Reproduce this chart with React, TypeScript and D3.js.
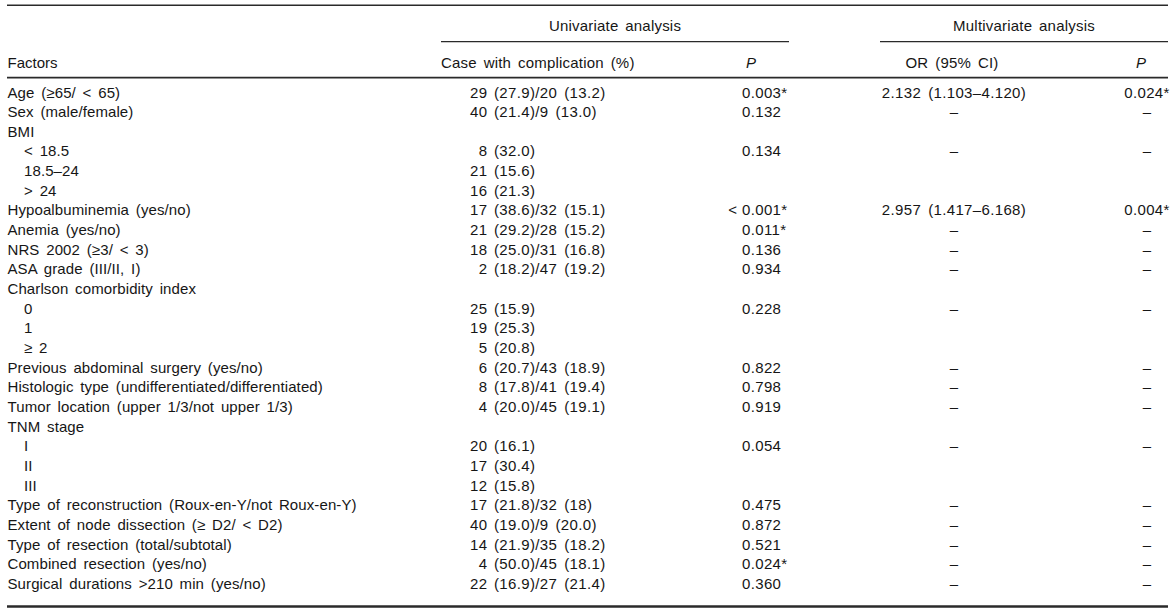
import React from "react";
import * as d3 from "d3";

const factors: string[] = [
  "Age (≥65/ < 65)",
  "Sex (male/female)",
  "BMI",
  "< 18.5",
  "18.5–24",
  "> 24",
  "Hypoalbuminemia (yes/no)",
  "Anemia (yes/no)",
  "NRS 2002 (≥3/ < 3)",
  "ASA grade (III/II, I)",
  "Charlson comorbidity index",
  "0",
  "1",
  "≥ 2",
  "Previous abdominal surgery (yes/no)",
  "Histologic type (undifferentiated/differentiated)",
  "Tumor location (upper 1/3/not upper 1/3)",
  "TNM stage",
  "I",
  "II",
  "III",
  "Type of reconstruction (Roux-en-Y/not Roux-en-Y)",
  "Extent of node dissection (≥ D2/ < D2)",
  "Type of resection (total/subtotal)",
  "Combined resection (yes/no)",
  "Surgical durations >210 min (yes/no)",
];

const subItem: boolean[] = [
  false, false, false, true, true, true, false, false, false, false,
  false, true, true, true, false, false, false, false, true, true,
  true, false, false, false, false, false,
];

const caseWithComplication: string[] = [
  "29 (27.9)/20 (13.2)",
  "40 (21.4)/9 (13.0)",
  "",
  "8 (32.0)",
  "21 (15.6)",
  "16 (21.3)",
  "17 (38.6)/32 (15.1)",
  "21 (29.2)/28 (15.2)",
  "18 (25.0)/31 (16.8)",
  "2 (18.2)/47 (19.2)",
  "",
  "25 (15.9)",
  "19 (25.3)",
  "5 (20.8)",
  "6 (20.7)/43 (18.9)",
  "8 (17.8)/41 (19.4)",
  "4 (20.0)/45 (19.1)",
  "",
  "20 (16.1)",
  "17 (30.4)",
  "12 (15.8)",
  "17 (21.8)/32 (18)",
  "40 (19.0)/9 (20.0)",
  "14 (21.9)/35 (18.2)",
  "4 (50.0)/45 (18.1)",
  "22 (16.9)/27 (21.4)",
];

const univariateP: string[] = [
  "0.003*", "0.132", "", "0.134", "", "", "<0.001*", "0.011*", "0.136", "0.934",
  "", "0.228", "", "", "0.822", "0.798", "0.919", "", "0.054", "",
  "", "0.475", "0.872", "0.521", "0.024*", "0.360",
];

const orCI: string[] = [
  "2.132 (1.103–4.120)", "–", "", "–", "", "", "2.957 (1.417–6.168)", "–", "–", "–",
  "", "–", "", "", "–", "–", "–", "", "–", "",
  "", "–", "–", "–", "–", "–",
];

const multivariateP: string[] = [
  "0.024*", "–", "", "–", "", "", "0.004*", "–", "–", "–",
  "", "–", "", "", "–", "–", "–", "", "–", "",
  "", "–", "–", "–", "–", "–",
];

const spanHeaders: string[] = ["Univariate analysis", "Multivariate analysis"];
const colHeaders: string[] = ["Factors", "Case with complication (%)", "P", "OR (95% CI)", "P"];

const W = 1174;
const H = 615;
const FONT = "'Liberation Sans', Arial, Helvetica, sans-serif";
const FS = 15;
const COLOR = "#161616";
const NUM_LS = 0.35;

export default function App() {
  const rowY = d3.scaleLinear().domain([0, factors.length - 1]).range([97.5, 589]);
  const x = {
    factor: 7.5,
    indent: 24,
    caseIntEnd: 487.5,
    caseRest: 494,
    uniP: 742,
    uniPHeader: 751,
    orMid: 954,
    multiP: 1147,
    multiPHeader: 1141,
  };
  const spans = [
    { label: spanHeaders[0], x0: 441, x1: 789 },
    { label: spanHeaders[1], x0: 880, x1: 1168 },
  ];

  return (
    <svg
      width={W}
      height={H}
      viewBox={`0 0 ${W} ${H}`}
      style={{ position: "absolute", left: 0, top: 0, display: "block", background: "#fff", wordSpacing: "2.5px" }}
      fontFamily={FONT}
      fontSize={FS}
      fill={COLOR}
    >
      <rect x={0} y={0} width={W} height={H} fill="#fff" />
      {/* rules */}
      <line x1={7} x2={1168} y1={5.2} y2={5.2} stroke="#2a2a2a" strokeWidth={1.6} />
      {spans.map((s, i) => (
        <g key={i}>
          <text x={(s.x0 + s.x1) / 2} y={30.5} textAnchor="middle" letterSpacing={0.2}>{s.label}</text>
          <line x1={s.x0} x2={s.x1} y1={41.6} y2={41.6} stroke="#2a2a2a" strokeWidth={1.3} />
        </g>
      ))}
      <line x1={7} x2={1168} y1={77.7} y2={77.7} stroke="#2a2a2a" strokeWidth={1.8} />
      <line x1={7} x2={1168} y1={606.5} y2={606.5} stroke="#2a2a2a" strokeWidth={2.6} />

      {/* column headers */}
      <text x={x.factor} y={67.5}>{colHeaders[0]}</text>
      <text x={441} y={67.5} letterSpacing={0.2}>{colHeaders[1]}</text>
      <text x={x.uniPHeader} y={67.5} textAnchor="middle" fontStyle="italic">{colHeaders[2]}</text>
      <text x={x.orMid - 2} y={67.5} textAnchor="middle" letterSpacing={0.2}>{colHeaders[3]}</text>
      <text x={x.multiPHeader} y={67.5} textAnchor="middle" fontStyle="italic">{colHeaders[4]}</text>

      {/* body */}
      {factors.map((f, i) => {
        const y = rowY(i);
        const c = caseWithComplication[i];
        const sp = c.indexOf(" ");
        const lead = sp > 0 ? c.slice(0, sp) : "";
        const rest = sp > 0 ? c.slice(sp + 1) : "";
        const p = univariateP[i];
        const pLess = p.startsWith("<");
        return (
          <g key={i}>
            <text x={subItem[i] ? x.indent : x.factor} y={y} letterSpacing={0.1}>{f}</text>
            {c && (
              <>
                <text x={x.caseIntEnd} y={y} textAnchor="end" letterSpacing={NUM_LS}>{lead}</text>
                <text x={x.caseRest} y={y} letterSpacing={NUM_LS}>{rest}</text>
              </>
            )}
            {p && (
              pLess ? (
                <>
                  <text x={x.uniP - 5} y={y} textAnchor="end">{"<"}</text>
                  <text x={x.uniP} y={y} letterSpacing={NUM_LS}>{p.slice(1)}</text>
                </>
              ) : (
                <text x={x.uniP} y={y} letterSpacing={NUM_LS}>{p}</text>
              )
            )}
            {orCI[i] && <text x={x.orMid} y={y} textAnchor="middle" letterSpacing={NUM_LS}>{orCI[i]}</text>}
            {multivariateP[i] && <text x={x.multiP} y={y} textAnchor="middle" letterSpacing={NUM_LS}>{multivariateP[i]}</text>}
          </g>
        );
      })}
    </svg>
  );
}
